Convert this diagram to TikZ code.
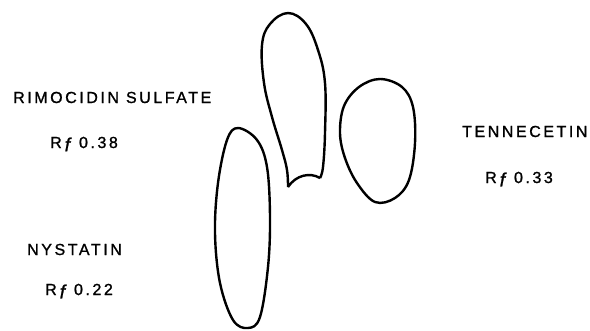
\documentclass[tikz,border=0pt]{standalone}
\usepackage{fontspec}
\usepackage{tikz}
\newfontfamily\lettering{Liberation Sans}[LetterSpace=16, FakeBold=1.2]
\newcommand{\rfval}[1]{R\hspace{3pt}\raisebox{-0.4ex}{\fontsize{19}{20}\selectfont\itshape f}\hspace{9pt}#1}

\begin{document}
\begin{tikzpicture}[x=1pt, y=-1pt, every node/.style={font=\lettering\fontsize{16}{18}\selectfont, inner sep=0pt, anchor=base west},
  spot/.style={line width=2.4pt, line join=round}]
\useasboundingbox (0,0) rectangle (590,330);
% spots
\draw[spot] plot[smooth cycle, tension=0.6] coordinates {(238,128) (227,140) (218,183) (215,233) (220,283) (233,320) (248,328) (260,317) (268,267) (270,217) (267,167) (257,140)};
\draw[spot] (320,178) .. controls (310,172) and (296,175) .. (288,187)
  plot[smooth, tension=0.65] coordinates {(288,187) (287,170) (282,150) (272,117) (264,83) (262,45) (270,24) (288,13) (306,24) (318,50) (325,83) (325,133) (323,167) (320,178)};
\draw[spot] plot[smooth cycle, tension=0.6] coordinates {(380,79) (359,87) (344,106) (340,133) (345,158) (357,183) (375,202) (395,198) (409,180) (415,143) (413,107) (402,87)};
% labels
\node (rimocidin) at (13,103) {RIMOCIDIN SULFATE};
\node (rfrimo) at (50,148) {\rfval{0.38}};
\node (nystatin) at (27,255) {NYSTATIN};
\node (rfnys) at (45,295) {\rfval{0.22}};
\node (tennecetin) at (462,137) {TENNECETIN};
\node (rften) at (485,183) {\rfval{0.33}};
\end{tikzpicture}
\end{document}
